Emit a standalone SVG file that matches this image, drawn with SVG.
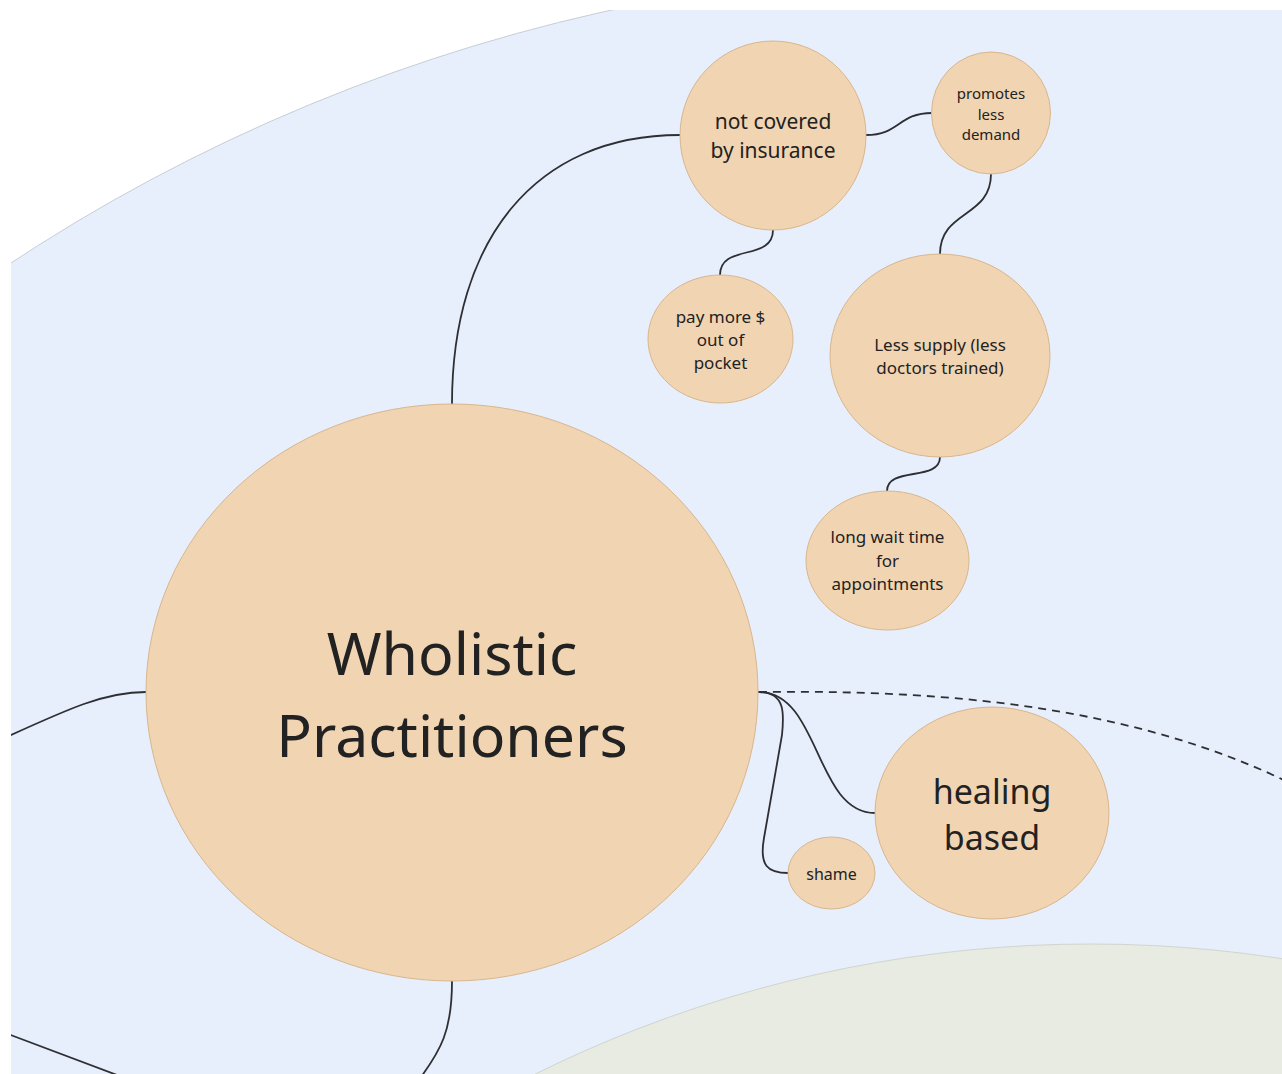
<svg xmlns="http://www.w3.org/2000/svg" width="1282" height="1074" viewBox="0 0 1282 1074">
  <style>
    .node ellipse { fill: #F1D4B2; stroke: #D8B68E; stroke-width: 1; }
    .node text { font-family: "Noto Sans", "Open Sans", sans-serif; fill: #222222; text-anchor: middle; }
    .link { fill: none; stroke: #2E2F33; stroke-width: 1.8; stroke-linecap: round; }
    .dashed { stroke-dasharray: 8 6; stroke-linecap: butt; }
  </style>
  <defs>
    <clipPath id="frame">
      <rect x="11" y="10" width="1271" height="1064"/>
    </clipPath>
  </defs>

  <rect width="1282" height="1074" fill="#FFFFFF"/>

  <g clip-path="url(#frame)">
    <!-- outer ring and inner ring backgrounds -->
    <circle id="ring-outer" cx="992" cy="1753" r="1784" fill="#E8EFFC" stroke="#C7CDD6" stroke-width="1"/>
    <circle id="ring-inner" cx="1091" cy="2197" r="1253" fill="#E7EBE1" stroke="#D0D5CF" stroke-width="1"/>

    <!-- connectors -->
    <g id="connectors">
      <path class="link" d="M452,404 C452,240 535,135 680,135"/>
      <path class="link" d="M866,135 C900,135 898,113 932,113"/>
      <path class="link" d="M773,230 C773,262 720,243 720,275"/>
      <path class="link" d="M991,174 C991,218 940,210 940,254"/>
      <path class="link" d="M940,457 C940,482 887,466 887,491"/>
      <path class="link" d="M146,692 C105,692 70,708 0,740"/>
      <path class="link" d="M452,981 C452,1030 442,1050 415,1085"/>
      <path class="link" d="M0,1031 L125,1078"/>
      <path class="link" d="M759,692 C820,692 815,813 875,813"/>
      <path class="link" d="M759,692 C786,692 784,715 782,735 L764,838 C759,866 768,873 788,873"/>
    </g>

    <!-- nodes -->
    <g id="node-wholistic" class="node">
      <ellipse cx="452" cy="692.5" rx="306" ry="288.5"/>
      <text font-size="59" fill="#1A1A1A"><tspan x="452" y="675">Wholistic</tspan><tspan x="452" y="757">Practitioners</tspan></text>
    </g>
    <g id="node-not-covered" class="node">
      <ellipse cx="773" cy="135.5" rx="93" ry="94.5"/>
      <text font-size="21"><tspan x="773" y="129">not covered</tspan><tspan x="773" y="158">by insurance</tspan></text>
    </g>
    <g id="node-promotes" class="node">
      <ellipse cx="991" cy="113" rx="59.5" ry="61"/>
      <text font-size="15"><tspan x="991" y="99">promotes</tspan><tspan x="991" y="120">less</tspan><tspan x="991" y="140">demand</tspan></text>
    </g>
    <g id="node-pay-more" class="node">
      <ellipse cx="720.5" cy="339" rx="72.5" ry="64"/>
      <text font-size="17"><tspan x="720.5" y="323">pay more $</tspan><tspan x="720.5" y="346">out of</tspan><tspan x="720.5" y="369">pocket</tspan></text>
    </g>
    <g id="node-less-supply" class="node">
      <ellipse cx="940" cy="355.5" rx="110" ry="101.5"/>
      <text font-size="17"><tspan x="940" y="351">Less supply (less</tspan><tspan x="940" y="374">doctors trained)</tspan></text>
    </g>
    <g id="node-long-wait" class="node">
      <ellipse cx="887.5" cy="560.5" rx="81.5" ry="69.5"/>
      <text font-size="17"><tspan x="887.5" y="543">long wait time</tspan><tspan x="887.5" y="567">for</tspan><tspan x="887.5" y="590">appointments</tspan></text>
    </g>
    <g id="node-healing" class="node">
      <ellipse cx="992" cy="813" rx="117" ry="106"/>
      <text font-size="34" fill="#1A1A1A"><tspan x="992" y="804">healing</tspan><tspan x="992" y="850">based</tspan></text>
    </g>
    <g id="node-shame" class="node">
      <ellipse cx="831.5" cy="873" rx="43.5" ry="36"/>
      <text font-size="16"><tspan x="831.5" y="880">shame</tspan></text>
    </g>

    <!-- dashed link drawn over the nodes -->
    <path class="link dashed" d="M759,692 C920,690 1120,700 1290,783"/>
  </g>
</svg>
